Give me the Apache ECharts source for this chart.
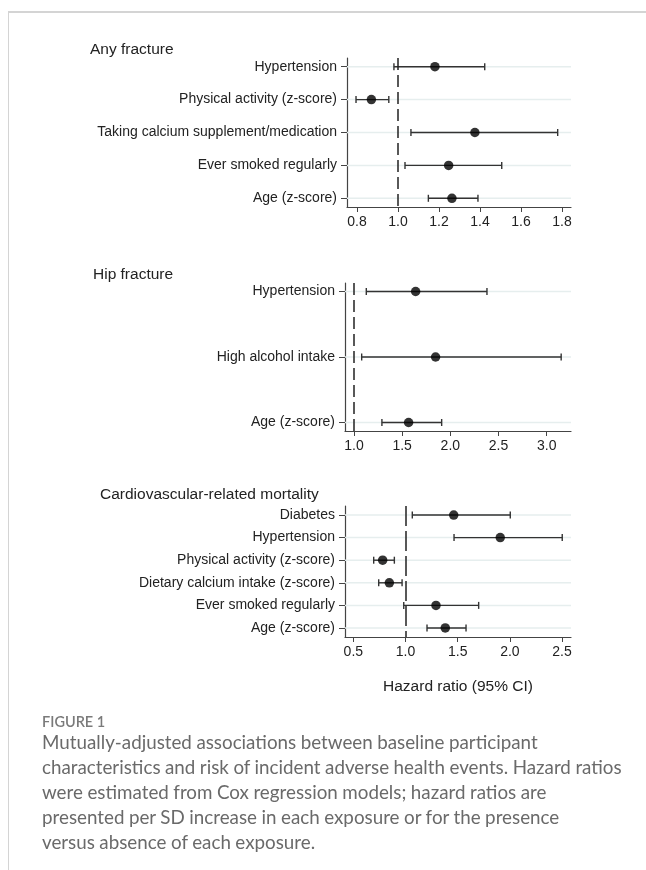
<!DOCTYPE html>
<html>
<head>
<meta charset="utf-8">
<script src="https://cdn.jsdelivr.net/npm/echarts@6/dist/echarts.min.js"></script>
<style>
html,body{margin:0;padding:0;background:#fff;}
#wrap{position:relative;width:646px;height:870px;}
#chart{position:absolute;left:0;top:0;width:646px;height:870px;}
#cap{position:absolute;left:42px;top:729px;font-family:Lato,"Open Sans",sans-serif;font-size:18.8px;line-height:25px;color:#6a6a6a;white-space:nowrap;word-spacing:-0.3px;}
#caphead{position:absolute;left:42px;top:713px;font-family:Lato,"Open Sans",sans-serif;font-size:14.5px;font-weight:600;color:#7a7a7a;}
</style>
</head>
<body>
<div id="wrap">
<div id="chart"></div>
<div id="caphead"></div>
<div id="cap"></div>
</div>
<script>
// ---- Data ----
const panelTitles = ['Any fracture', 'Hip fracture', 'Cardiovascular-related mortality'];

const p1Labels = ['Hypertension', 'Physical activity (z-score)', 'Taking calcium supplement/medication', 'Ever smoked regularly', 'Age (z-score)'];
const p1HR   = [1.18, 0.87, 1.375, 1.247, 1.263];
const p1Low  = [0.98, 0.795, 1.063, 1.034, 1.148];
const p1High = [1.423, 0.955, 1.779, 1.506, 1.39];
const p1Ticks = [0.8, 1.0, 1.2, 1.4, 1.6, 1.8];

const p2Labels = ['Hypertension', 'High alcohol intake', 'Age (z-score)'];
const p2HR   = [1.64, 1.847, 1.567];
const p2Low  = [1.128, 1.08, 1.29];
const p2High = [2.38, 3.15, 1.91];
const p2Ticks = [1.0, 1.5, 2.0, 2.5, 3.0];

const p3Labels = ['Diabetes', 'Hypertension', 'Physical activity (z-score)', 'Dietary calcium intake (z-score)', 'Ever smoked regularly', 'Age (z-score)'];
const p3HR   = [1.462, 1.908, 0.781, 0.845, 1.292, 1.381];
const p3Low  = [1.065, 1.465, 0.695, 0.743, 0.983, 1.206];
const p3High = [2.004, 2.502, 0.893, 0.967, 1.701, 1.58];
const p3Ticks = [0.5, 1.0, 1.5, 2.0, 2.5];

const xTitle = 'Hazard ratio (95% CI)';
const captionHead = 'FIGURE 1';
const captionLines = [
  'Mutually-adjusted associations between baseline participant',
  'characteristics and risk of incident adverse health events. Hazard ratios',
  'were estimated from Cox regression models; hazard ratios are',
  'presented per SD increase in each exposure or for the presence',
  'versus absence of each exposure.'
];

// ---- Layout ----
const FONT = '"Liberation Sans", Arial, sans-serif';
const panels = [
  {labels: p1Labels, hr: p1HR, lo: p1Low, hi: p1High, ticks: p1Ticks,
   grid: {left: 347, top: 58, width: 224, height: 149},
   xmin: 0.751, xmax: 1.844, ymin: -0.265, ymax: 4.265, dash: [12, 5],
   title: {x: 90, y: 51}},
  {labels: p2Labels, hr: p2HR, lo: p2Low, hi: p2High, ticks: p2Ticks,
   grid: {left: 345, top: 283, width: 226, height: 148},
   xmin: 0.907, xmax: 3.252, ymin: -0.13, ymax: 2.13, dash: [12, 5],
   title: {x: 93, y: 276}},
  {labels: p3Labels, hr: p3HR, lo: p3Low, hi: p3High, ticks: p3Ticks,
   grid: {left: 345, top: 506, width: 226, height: 131},
   xmin: 0.42, xmax: 2.586, ymin: -0.4, ymax: 5.4, dash: [20, 5],
   title: {x: 100, y: 496}, name: xTitle}
];

const grids = [], xAxes = [], yAxes = [], series = [], graphics = [];

panels.forEach((p, k) => {
  grids.push(Object.assign({containLabel: false}, p.grid));
  const idx = p.labels.map((_, i) => i);
  xAxes.push({
    type: 'value', gridIndex: k, min: p.xmin, max: p.xmax,
    axisLine: {show: true, onZero: false, lineStyle: {color: '#444', width: 1.2}},
    axisTick: {show: true, length: 5, customValues: p.ticks, lineStyle: {color: '#444'}},
    axisLabel: {customValues: p.ticks, formatter: v => Number(v).toFixed(1), color: '#222', fontSize: 14, fontFamily: FONT, margin: 8},
    splitLine: {show: false},
    name: p.name || '', nameLocation: 'middle', nameGap: 42,
    nameTextStyle: {color: '#222', fontSize: 15.5, fontFamily: FONT}
  });
  yAxes.push({
    type: 'value', gridIndex: k, min: p.ymin, max: p.ymax, inverse: true,
    axisLine: {show: true, onZero: false, lineStyle: {color: '#444', width: 1.2}},
    axisTick: {show: true, length: 6, customValues: idx, lineStyle: {color: '#444'}},
    axisLabel: {customValues: idx, formatter: v => p.labels[Math.round(v)] || '', color: '#222', fontSize: 14, fontFamily: FONT, margin: 10},
    splitLine: {show: false}
  });
  const xmin = p.xmin, xmax = p.xmax;
  series.push({
    type: 'custom', xAxisIndex: k, yAxisIndex: k, z: 2, silent: true,
    data: p.labels.map((_, i) => [p.lo[i], p.hi[i], i]),
    encode: {x: [0, 1], y: 2},
    renderItem: (params, api) => {
      const lo = api.value(0), hi = api.value(1), y = api.value(2);
      const g0 = api.coord([xmin, y]), g1 = api.coord([xmax, y]);
      const a = api.coord([lo, y]), b = api.coord([hi, y]);
      const c = 3.5;
      const st = {stroke: '#333', lineWidth: 1.4};
      return {type: 'group', children: [
        {type: 'line', shape: {x1: g0[0], y1: g0[1], x2: g1[0], y2: g1[1]}, style: {stroke: '#e6eeee', lineWidth: 1.5}},
        {type: 'line', shape: {x1: a[0], y1: a[1], x2: b[0], y2: b[1]}, style: st},
        {type: 'line', shape: {x1: a[0], y1: a[1] - c, x2: a[0], y2: a[1] + c}, style: st},
        {type: 'line', shape: {x1: b[0], y1: b[1] - c, x2: b[0], y2: b[1] + c}, style: st}
      ]};
    }
  });
  series.push({
    type: 'scatter', xAxisIndex: k, yAxisIndex: k, z: 3, silent: true,
    symbol: 'circle', symbolSize: 9.5,
    itemStyle: {color: '#000'},
    data: p.hr.map((v, i) => [v, i]),
    markLine: {
      silent: true, symbol: 'none', label: {show: false},
      lineStyle: {color: '#222', width: 1.5, type: p.dash},
      data: [{xAxis: 1}]
    }
  });
  graphics.push({
    type: 'text', left: p.title.x, top: p.title.y - 9,
    style: {text: panelTitles[k], fill: '#222', font: '15.5px ' + FONT}
  });
});

// frame
graphics.push({type: 'line', shape: {x1: 8, y1: 12, x2: 646, y2: 12}, style: {stroke: '#d4d4d4', lineWidth: 2}});
graphics.push({type: 'line', shape: {x1: 8.5, y1: 12, x2: 8.5, y2: 870}, style: {stroke: '#d4d4d4', lineWidth: 1}});

document.getElementById('caphead').textContent = captionHead;
document.getElementById('cap').innerHTML = captionLines.map(t => t.replace(/&/g, '&amp;').replace(/</g, '&lt;')).join('<br>');

const chart = echarts.init(document.getElementById('chart'), null, {renderer: 'canvas'});
chart.setOption({
  animation: false,
  backgroundColor: '#fff',
  grid: grids, xAxis: xAxes, yAxis: yAxes, series: series, graphic: graphics
});
</script>
</body>
</html>
